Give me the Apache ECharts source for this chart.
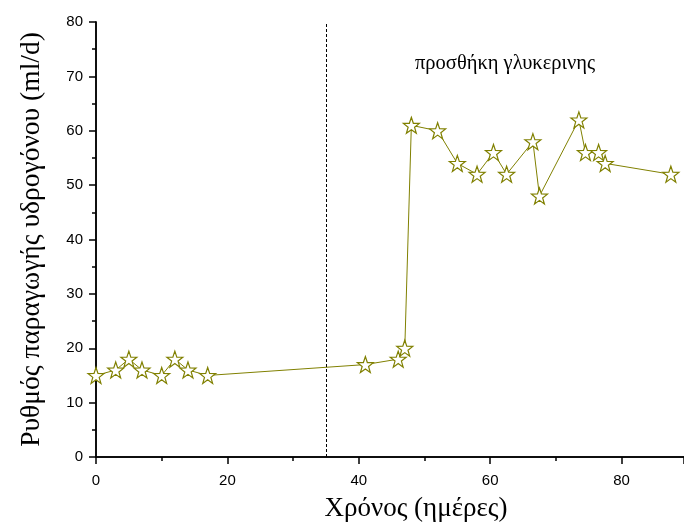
<!DOCTYPE html>
<html>
<head>
<meta charset="utf-8">
<script src="https://cdn.jsdelivr.net/npm/echarts@6/dist/echarts.min.js"></script>
<style>
  html, body { margin: 0; padding: 0; background: #fff; }
  #chart { width: 684px; height: 522px; }
</style>
</head>
<body>
<div id="chart"></div>
<script>
// ημέρες και ρυθμός παραγωγής υδρογόνου
const days = [0, 3, 5, 7, 10, 12, 14, 17, 41, 46, 47, 48, 52, 55, 58, 60.5, 62.5, 66.5, 67.5, 73.5, 74.5, 76.5, 77.5, 87.5]
const rates = [15, 16, 18, 16, 15, 18, 16, 15, 17, 18, 20, 61, 60, 54, 52, 56, 52, 58, 48, 62, 56, 56, 54, 52]
const glycerolDay = 35

const star = 'path://M50 0 L61.76 33.82 L97.55 34.55 L69.02 56.18 L79.39 90.45 L50 70 L20.61 90.45 L30.98 56.18 L2.45 34.55 L38.24 33.82 Z'

const chart = echarts.init(document.getElementById('chart'))
const labelFont = { color: '#000', fontSize: 15, fontFamily: 'Liberation Sans, Arial, sans-serif' }
const serif = 'Liberation Serif, Times New Roman, serif'

chart.setOption({
  animation: false,
  grid: { left: 96, top: 22, right: 0, bottom: 65, outerBoundsMode: 'none' },
  xAxis: [
    {
      type: 'value', min: 0, max: 89.5, interval: 20, position: 'bottom',
      name: 'Χρόνος (ημέρες)', nameLocation: 'middle', nameGap: 38,
      nameTextStyle: { color: '#000', fontSize: 27, fontFamily: serif, padding: [0, 0, 0, 52] },
      axisLine: { lineStyle: { color: '#000', width: 1.5 } },
      axisTick: { inside: false, length: 7, lineStyle: { color: '#000', width: 1.5 } },
      minorTick: { show: true, splitNumber: 2, length: 4, lineStyle: { color: '#000', width: 1.5 } },
      axisLabel: Object.assign({ margin: 16, showMaxLabel: false }, labelFont),
      splitLine: { show: false }
    },
    {
      type: 'value', min: 0, max: 89.5, position: 'top',
      axisLine: { show: true, lineStyle: { color: '#000', width: 1.5 } },
      axisTick: { show: false }, axisLabel: { show: false }, splitLine: { show: false }
    }
  ],
  yAxis: [
    {
      type: 'value', min: 0, max: 80, interval: 10, position: 'left',
      name: 'Ρυθμός παραγωγής υδρογόνου (ml/d)', nameLocation: 'middle', nameGap: 50,
      nameTextStyle: { color: '#000', fontSize: 27.5, fontFamily: serif },
      axisLine: { show: true, lineStyle: { color: '#000', width: 1.5 } },
      axisTick: { inside: false, length: 7, lineStyle: { color: '#000', width: 1.5 } },
      minorTick: { show: true, splitNumber: 2, length: 4, lineStyle: { color: '#000', width: 1.5 } },
      axisLabel: Object.assign({ margin: 13 }, labelFont),
      splitLine: { show: false }
    },
    {
      type: 'value', min: 0, max: 80, position: 'right',
      axisLine: { show: true, lineStyle: { color: '#000', width: 1.5 } },
      axisTick: { show: false }, axisLabel: { show: false }, splitLine: { show: false }
    }
  ],
  graphic: [
    {
      type: 'text', left: 415, top: 53,
      style: { text: 'προσθήκη γλυκερινης', fill: '#000', fontSize: 20.5, fontFamily: serif }
    }
  ],
  series: [
    {
      type: 'line',
      data: days.map((d, i) => [d, rates[i]]),
      symbol: star,
      symbolSize: 16,
      showAllSymbol: true,
      lineStyle: { color: '#808000', width: 1 },
      itemStyle: { color: '#fff', borderColor: '#808000', borderWidth: 1.2 },
      markLine: {
        silent: true, symbol: 'none', animation: false,
        label: { show: false },
        lineStyle: { color: '#000', type: [3, 2], width: 1 },
        data: [{ xAxis: glycerolDay }]
      }
    }
  ]
})
</script>
</body>
</html>
